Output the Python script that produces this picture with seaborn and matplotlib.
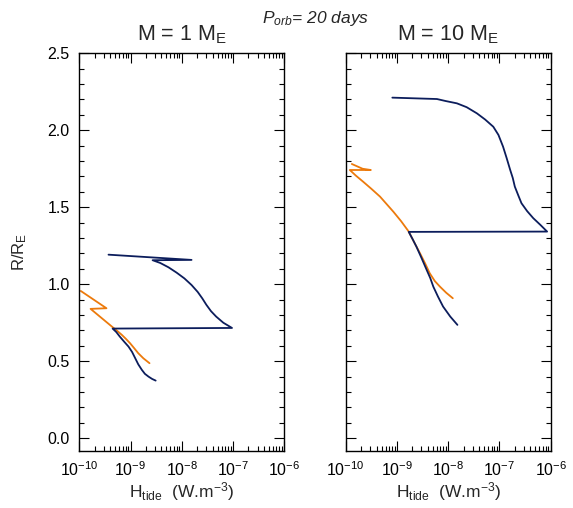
import numpy as np
import pandas as pd
import matplotlib
matplotlib.use('Agg')
import matplotlib.pyplot as plt
import seaborn as sns
from matplotlib.ticker import LogLocator, MultipleLocator, LogFormatterMathtext, NullFormatter

# values: log10(H_tide) and R/R_E along each track
# M = 1 M_E
m1_blue_logh = [-9.43, -7.81, -8.57, -8.42, -8.26, -8.10, -7.95, -7.81, -7.69, -7.60,
                -7.52, -7.43, -7.33, -7.19, -7.02,
                -9.35, -9.28, -9.21, -9.12, -9.04, -8.97, -8.91, -8.85, -8.78,
                -8.72, -8.65, -8.58, -8.51]
m1_blue_r = [1.192, 1.158, 1.156, 1.138, 1.110, 1.075, 1.038, 0.995, 0.950, 0.908,
             0.866, 0.825, 0.790, 0.750, 0.716,
             0.712, 0.690, 0.660, 0.625, 0.595, 0.560, 0.520, 0.480, 0.444,
             0.418, 0.400, 0.385, 0.374]
m1_orange_logh = [-9.97, -9.47, -9.78, -9.35, -9.26, -9.17, -9.09, -9.01, -8.93,
                  -8.85, -8.75, -8.63]
m1_orange_r = [0.956, 0.844, 0.840, 0.721, 0.697, 0.671, 0.645, 0.617, 0.585,
               0.552, 0.519, 0.487]

# M = 10 M_E
m10_blue_logh = [-9.09, -8.22, -8.05, -7.83, -7.64, -7.44, -7.28, -7.12, -7.02, -6.93,
                 -6.86, -6.79, -6.74, -6.70, -6.63, -6.57, -6.46, -6.34, -6.20, -6.07,
                 -8.77, -8.69, -8.62, -8.52, -8.42, -8.35, -8.29, -8.20, -8.10,
                 -7.96, -7.82]
m10_blue_r = [2.212, 2.203, 2.190, 2.175, 2.150, 2.110, 2.070, 2.023, 1.970, 1.894,
              1.820, 1.742, 1.690, 1.634, 1.575, 1.526, 1.475, 1.429, 1.385, 1.342,
              1.340, 1.290, 1.244, 1.170, 1.093, 1.040, 0.984, 0.920, 0.855,
              0.790, 0.736]
m10_orange_logh = [-9.88, -9.67, -9.51, -9.92, -9.80, -9.66, -9.50, -9.33, -9.20,
                   -9.07, -8.92, -8.77, -8.66, -8.55, -8.45, -8.36, -8.26, -8.16,
                   -8.04, -7.91]
m10_orange_r = [1.781, 1.750, 1.742, 1.742, 1.705, 1.666, 1.620, 1.569, 1.520,
                1.471, 1.410, 1.342, 1.270, 1.201, 1.135, 1.071, 1.020, 0.984,
                0.945, 0.909]

x_ticks = [1e-10, 1e-9, 1e-8, 1e-7, 1e-6]
y_ticks = [0.0, 0.5, 1.0, 1.5, 2.0, 2.5]

panels = [
    ('M = 1 M$_\\mathregular{E}$', m1_blue_logh, m1_blue_r, m1_orange_logh, m1_orange_r),
    ('M = 10 M$_\\mathregular{E}$', m10_blue_logh, m10_blue_r, m10_orange_logh, m10_orange_r),
]

navy = '#0c1d5c'
orange = '#ec7a0c'

sns.set_style('ticks')
plt.rcParams['font.family'] = ['Liberation Sans', 'DejaVu Sans']
plt.rcParams['mathtext.fontset'] = 'custom'
plt.rcParams['mathtext.rm'] = 'Liberation Sans'
plt.rcParams['mathtext.it'] = 'Liberation Sans:italic'
plt.rcParams['mathtext.default'] = 'regular'

fig = plt.figure(figsize=(5.73, 5.08), dpi=100)
lefts = [79.3 / 573, 345.7 / 573]

for i, (title, bx, by, ox, oy) in enumerate(panels):
    ax = fig.add_axes([lefts[i], 1 - 450.5 / 508, 205 / 573, 397.2 / 508])
    blue = pd.DataFrame({'H': 10.0 ** np.array(bx), 'R': by})
    orng = pd.DataFrame({'H': 10.0 ** np.array(ox), 'R': oy})
    sns.lineplot(data=orng, x='H', y='R', sort=False, estimator=None, color=orange, lw=1.3, ax=ax)
    sns.lineplot(data=blue, x='H', y='R', sort=False, estimator=None, color=navy, lw=1.3, ax=ax)

    ax.set_xscale('log')
    ax.set_xlim(1e-10, 1e-6)
    ax.set_ylim(-0.08, 2.5)
    ax.set_xticks(x_ticks)
    ax.xaxis.set_minor_locator(LogLocator(base=10, subs=np.arange(2, 10), numticks=20))
    ax.xaxis.set_major_formatter(LogFormatterMathtext())
    ax.xaxis.set_minor_formatter(NullFormatter())
    ax.set_yticks(y_ticks)
    ax.yaxis.set_minor_locator(MultipleLocator(0.1))
    ax.tick_params(which='both', direction='in', top=True, right=True, width=0.8,
                   labelsize=11.5, colors='black')
    ax.tick_params(which='major', length=7, pad=7)
    ax.tick_params(which='minor', length=3.5)
    for s in ax.spines.values():
        s.set_linewidth(1.0)
        s.set_color('black')

    ax.set_title(title, fontsize=15.5, pad=9)
    ax.set_xlabel('H$_{tide}$  (W.m$^{-3}$)', fontsize=12.5)
    ax.xaxis.set_label_coords(0.5, -0.075)
    if i == 0:
        ax.set_yticklabels(['0.0', '0.5', '1.0', '1.5', '2.0', '2.5'])
        ax.set_ylabel('R/R$_E$', fontsize=12)
        ax.yaxis.set_label_coords(-0.245, 0.5)
    else:
        ax.set_ylabel('')
        ax.tick_params(axis='y', labelleft=False)

fig.text(0.55, 0.963, '$\\mathit{P_{orb}}$= 20 days', style='italic', fontsize=12.5,
         ha='center', va='center')

fig.savefig('out.png', dpi=100)
